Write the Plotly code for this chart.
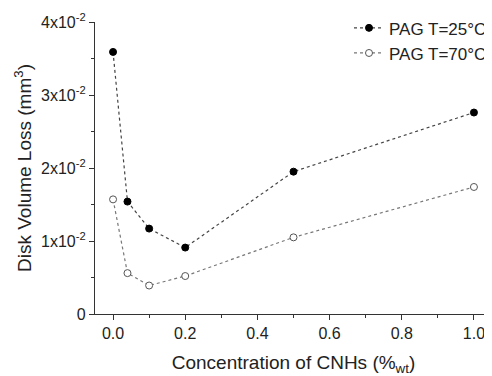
import plotly.graph_objects as go

conc = [0.0, 0.04, 0.1, 0.2, 0.5, 1.0]
loss_25 = [0.0359, 0.0154, 0.0117, 0.0091, 0.0195, 0.0276]
loss_70 = [0.0157, 0.0056, 0.0039, 0.0052, 0.0105, 0.0174]
y_ticks = [0, 0.01, 0.02, 0.03, 0.04]
y_tick_labels = ["0", "1x10<sup>-2</sup>", "2x10<sup>-2</sup>", "3x10<sup>-2</sup>", "4x10<sup>-2</sup>"]
x_ticks = [0.0, 0.2, 0.4, 0.6, 0.8, 1.0]
x_tick_labels = ["0.0", "0.2", "0.4", "0.6", "0.8", "1.0"]

fig = go.Figure()
fig.add_trace(go.Scatter(
    x=conc, y=loss_25, mode="lines+markers", name="PAG T=25°C",
    line=dict(color="#444444", width=1.2, dash="dot"),
    marker=dict(symbol="circle", size=7, color="black", line=dict(color="black", width=1)),
))
fig.add_trace(go.Scatter(
    x=conc, y=loss_70, mode="lines+markers", name="PAG T=70°C",
    line=dict(color="#777777", width=1.2, dash="dot"),
    marker=dict(symbol="circle", size=7, color="white", line=dict(color="#555555", width=1)),
))

font_family = "Liberation Sans, Arial, sans-serif"
# page body has an 8px default margin; compensate so the plot area sits where the reference has it
fig.update_layout(
    width=484, height=368,
    margin=dict(l=87, r=0, t=14, b=62),
    paper_bgcolor="white", plot_bgcolor="white",
    font=dict(family=font_family, size=16, color="#222222"),
    showlegend=True,
    legend=dict(x=1.0, y=1.04, xanchor="right", yanchor="top",
                bgcolor="rgba(0,0,0,0)", font=dict(size=17, color="#222222"),
                itemwidth=30, tracegroupgap=0),
    xaxis=dict(
        range=[-0.05, 1.05], tickvals=x_ticks, ticktext=x_tick_labels,
        showgrid=False, zeroline=False, showline=True, linecolor="#333333", linewidth=1.2,
        ticks="outside", ticklen=5, tickcolor="#333333",
        tickfont=dict(size=16),
        minor=dict(tickvals=[0.1, 0.3, 0.5, 0.7, 0.9], ticks="outside", ticklen=3, tickcolor="#333333"),
        title=dict(text="Concentration of CNHs (%<sub>wt</sub>)", font=dict(size=19), standoff=14),
    ),
    yaxis=dict(
        range=[0, 0.04], tickvals=y_ticks, ticktext=y_tick_labels,
        showgrid=False, zeroline=False, showline=True, linecolor="#333333", linewidth=1.2,
        ticks="outside", ticklen=5, tickcolor="#333333",
        tickfont=dict(size=16),
        minor=dict(tickvals=[0.005, 0.015, 0.025, 0.035], ticks="outside", ticklen=3, tickcolor="#333333"),
        title=dict(text="Disk Volume Loss (mm<sup>3</sup>)", font=dict(size=19), standoff=4),
    ),
)

fig.write_html("out.html")
